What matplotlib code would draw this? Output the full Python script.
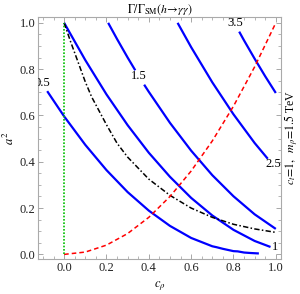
import numpy as np
import matplotlib
matplotlib.use('Agg')
from matplotlib import pyplot as plt

plt.rcParams['font.family'] = ['Liberation Serif', 'DejaVu Serif']
plt.rcParams['mathtext.fontset'] = 'stix'

# contour Gamma/Gamma_SM = 0.5
c_05 = [-0.08, 0.0, 0.1, 0.2, 0.3, 0.4, 0.5, 0.6, 0.7, 0.72, 0.75, 0.8, 0.82, 0.85, 0.88, 0.92]
a2_05 = [0.705, 0.596, 0.473, 0.364, 0.269, 0.189, 0.123, 0.071, 0.035, 0.031, 0.024, 0.014, 0.013, 0.008, 0.006, 0.004]
# contour = 1
c_1 = [0.0, 0.1, 0.2, 0.3, 0.4, 0.5, 0.6, 0.7, 0.8, 0.9, 0.975]
a2_1 = [1.0, 0.839, 0.691, 0.558, 0.439, 0.335, 0.244, 0.168, 0.106, 0.058, 0.032]
# contour = 1.5 (gap for label)
c_15 = [0.208, 0.25, 0.3, 0.336, np.nan, 0.378, 0.4, 0.5, 0.6, 0.7, 0.8, 0.9, 1.0]
a2_15 = [1.0, 0.930, 0.850, 0.795, np.nan, 0.733, 0.702, 0.568, 0.448, 0.342, 0.251, 0.173, 0.110]
# contour = 2.5
c_25 = [0.536, 0.6, 0.7, 0.8, 0.9, 0.962]
a2_25 = [1.0, 0.895, 0.743, 0.605, 0.481, 0.413]
# contour = 3.5
c_35 = [0.827, 0.85, 0.9, 0.95, 1.0]
a2_35 = [0.962, 0.924, 0.845, 0.769, 0.697]

# black dot-dashed curve
c_bk = [0.0, 0.03, 0.06, 0.1, 0.13, 0.2, 0.25, 0.3, 0.4, 0.5, 0.6, 0.7, 0.8, 0.9, 1.0]
a2_bk = [1.0, 0.92, 0.845, 0.745, 0.68, 0.56, 0.48, 0.42, 0.325, 0.255, 0.2, 0.16, 0.13, 0.11, 0.095]

# red dashed curve
c_red = [0.0, 0.1, 0.2, 0.3, 0.4, 0.5, 0.6, 0.7, 0.8, 0.9, 1.0]
a2_red = [0.0, 0.01, 0.04, 0.09, 0.16, 0.25, 0.36, 0.49, 0.64, 0.81, 1.0]

# green dotted line
c_grn = [0.0, 0.0]
a2_grn = [0.0, 1.0]

# contour labels
lab_text = ['0.5', '1.5', '2.5', '3.5', '1']
lab_x = [-0.105, 0.352, 0.99, 0.81, 0.997]
lab_y = [0.74, 0.772, 0.392, 0.998, 0.032]

fig = plt.figure(figsize=(3.0, 2.94), dpi=100)
ax = fig.add_axes([0.127, 0.119, 0.81, 0.823])

blue = (0, 0, 1)
for cx, cy in [(c_05, a2_05), (c_1, a2_1), (c_15, a2_15), (c_25, a2_25), (c_35, a2_35)]:
    ax.plot(cx, cy, color=blue, lw=1.6, solid_capstyle='butt')
ax.plot(c_bk, a2_bk, color='black', lw=1.1, linestyle=(0, (3.5, 1.5, 1, 1.5)))
ax.plot(c_red, a2_red, color='red', lw=1.1, linestyle=(0, (3, 2)))
ax.plot(c_grn, a2_grn, color='#00c000', lw=1.2, linestyle=(0, (1, 1)))

for t, x, y in zip(lab_text, lab_x, lab_y):
    ax.text(x, y, t, fontsize=9, ha='center', va='center', clip_on=True)

ax.set_xlim(-0.123, 1.025)
ax.set_ylim(-0.02, 1.025)
ax.set_xticks(np.arange(0, 1.01, 0.2))
ax.set_yticks(np.arange(0, 1.01, 0.2))
ax.set_xticks(np.arange(-0.1, 1.01, 0.05), minor=True)
ax.set_yticks(np.arange(0, 1.01, 0.05), minor=True)
ax.xaxis.set_major_formatter(matplotlib.ticker.FormatStrFormatter('%.1f'))
ax.yaxis.set_major_formatter(matplotlib.ticker.FormatStrFormatter('%.1f'))
ax.tick_params(which='both', direction='in', top=True, right=True, color='#999999',
               labelsize=9, pad=2, labelcolor='#222222')
ax.tick_params(which='major', length=3.5, width=0.6)
ax.tick_params(which='minor', length=2, width=0.5)
for s in ax.spines.values():
    s.set_color('#aaaaaa')
    s.set_linewidth(0.8)

ax.set_title(r'$\Gamma/\Gamma_{\rm SM}(h\!\to\!\gamma\gamma)$', fontsize=8.5, pad=3)
ax.set_xlabel(r'$c_\rho$', fontsize=9, labelpad=4)
ax.set_ylabel(r'$a^2$', fontsize=9, labelpad=2)
ax.text(1.045, 0.5, r'$c_t\!=\!1,\ \ m_\rho\!=\!1.5$ TeV', transform=ax.transAxes,
        rotation=90, ha='center', va='center', fontsize=8.5)

fig.savefig('out.png', dpi=100)
